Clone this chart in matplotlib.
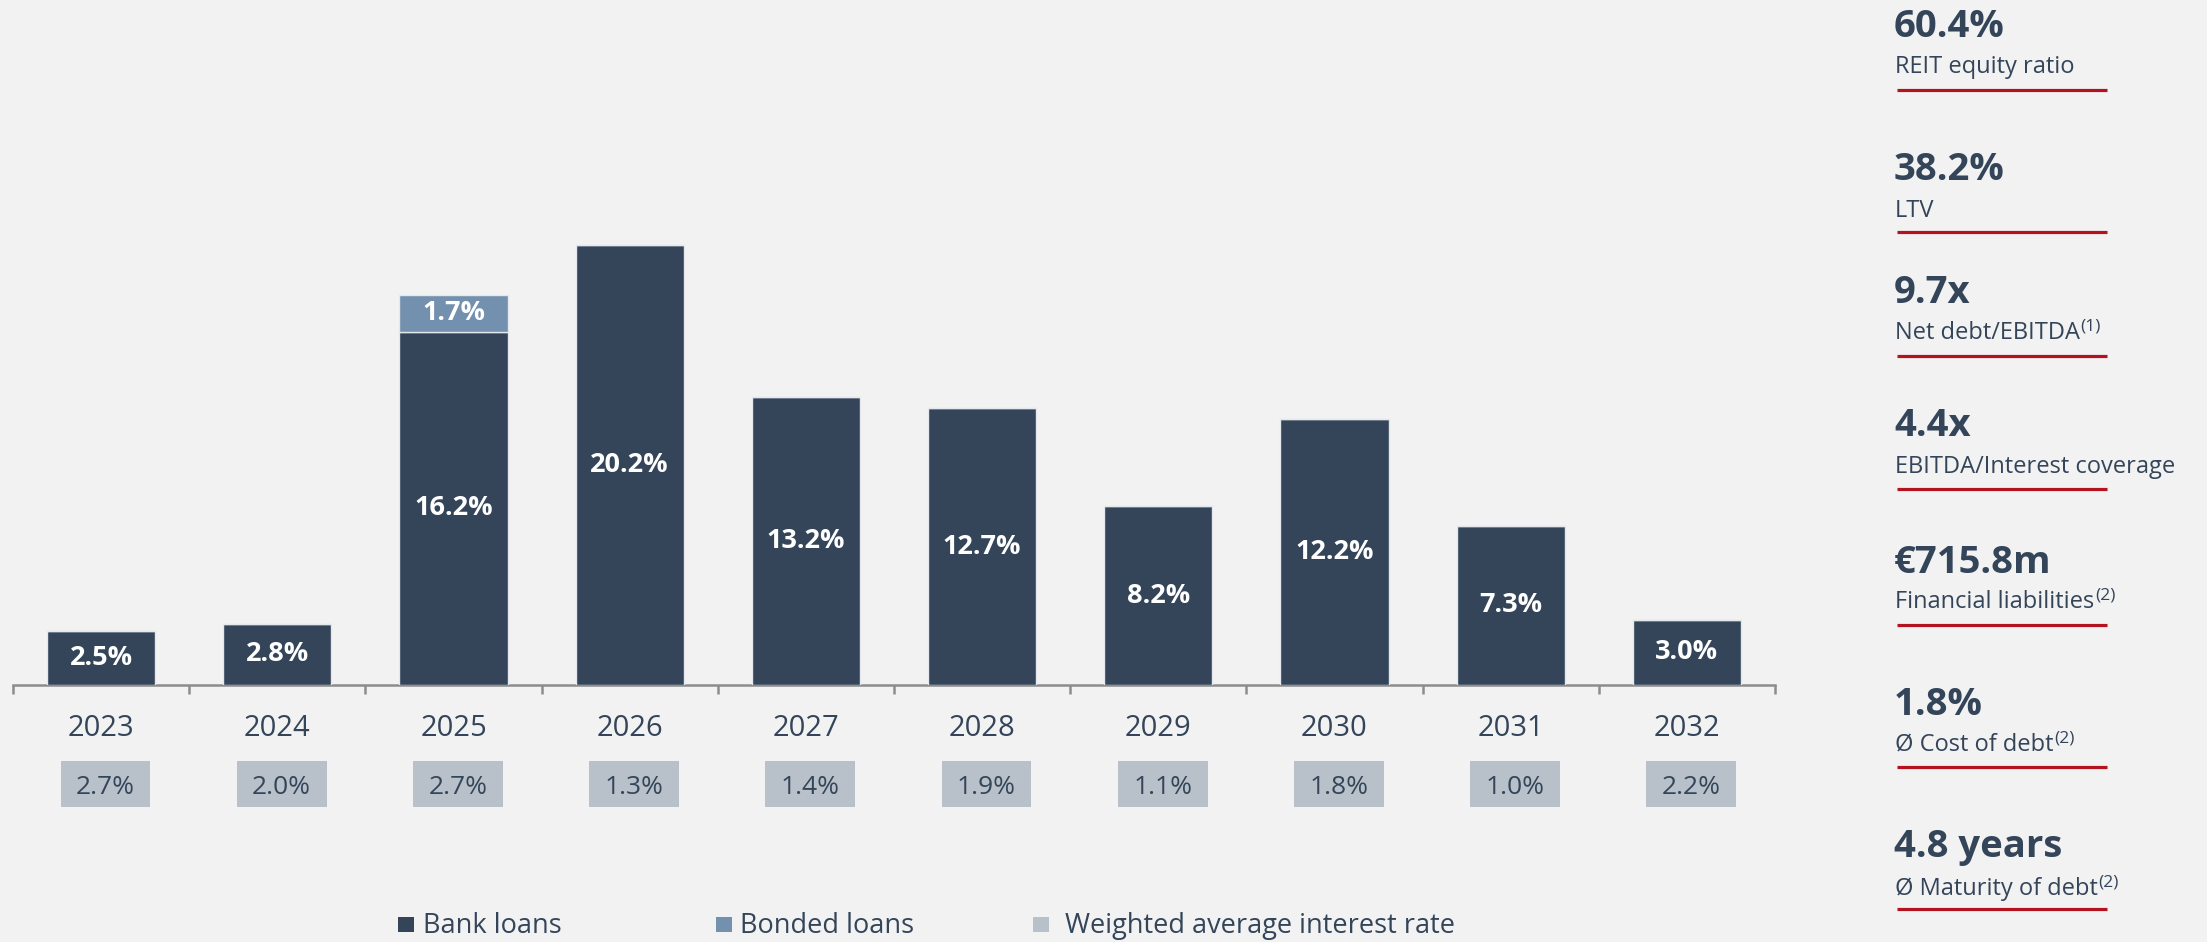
import matplotlib
matplotlib.use("Agg")
import matplotlib.pyplot as plt
from matplotlib.patches import Rectangle
from matplotlib.lines import Line2D
from matplotlib.text import Annotation
import matplotlib.transforms as mtransforms

plt.rcParams['font.family'] = ['Open Sans', 'DejaVu Sans']

# ---------------- data ----------------
years = ["2023", "2024", "2025", "2026", "2027", "2028", "2029", "2030", "2031", "2032"]
bank_loans = [2.5, 2.8, 16.2, 20.2, 13.2, 12.7, 8.2, 12.2, 7.3, 3.0]
bonded_loans = [0, 0, 1.7, 0, 0, 0, 0, 0, 0, 0]
interest_rate = [2.7, 2.0, 2.7, 1.3, 1.4, 1.9, 1.1, 1.8, 1.0, 2.2]
legend_labels = ["Bank loans", "Bonded loans", "Weighted average interest rate"]

kpi_values = ["60.4%", "38.2%", "9.7x", "4.4x", "€715.8m", "1.8%", "4.8 years"]
kpi_labels = ["REIT equity ratio", "LTV", "Net debt/EBITDA", "EBITDA/Interest coverage",
              "Financial liabilities", "Ø Cost of debt", "Ø Maturity of debt"]
kpi_notes = ["", "", "(1)", "", "(2)", "(2)", "(2)"]

# ---------------- style ----------------
W, H = 2207, 942
BG = "#F2F2F2"
C_BANK = "#344559"
C_BOND = "#7390AE"
C_RATE = "#B8C1C9"
C_TEXT = "#34455A"
C_AXIS = "#8C8C8C"
C_RED = "#B2131F"

def fx(x):
    return x / W

def fy(y):
    return 1 - y / H

fig = plt.figure(figsize=(W / 100, H / 100), dpi=100, facecolor=BG)

# chart axes geometry in pixels
left_px, cat_px = 13, 176.2
base_px, pct_px = 685, 21.8
ymax = 25
ax = fig.add_axes([fx(left_px), fy(base_px), fx(cat_px * 10), ymax * pct_px / H])
ax.set_facecolor(BG)
ax.set_xlim(-0.5, 9.5)
ax.set_ylim(0, ymax)

xs = list(range(len(years)))
ax.bar(xs, bank_loans, width=0.615, color=C_BANK, edgecolor="#E4E8EC", linewidth=1, zorder=3)
ax.bar(xs, bonded_loans, width=0.615, bottom=bank_loans, color=C_BOND,
       edgecolor="#E4E8EC", linewidth=1, zorder=3)

for x, b, bo in zip(xs, bank_loans, bonded_loans):
    ax.text(x, b / 2, f"{b:.1f}%", ha="center", va="center", color="white",
            fontsize=19.5, fontweight="bold", zorder=4)
    if bo > 0:
        ax.text(x, b + bo / 2, f"{bo:.1f}%", ha="center", va="center", color="white",
                fontsize=19.5, fontweight="bold", zorder=4)

for s in ["top", "left", "right"]:
    ax.spines[s].set_visible(False)
ax.spines["bottom"].set_color(C_AXIS)
ax.spines["bottom"].set_linewidth(1.8)
ax.set_xticks([i - 0.5 for i in range(len(years) + 1)])
ax.set_xticklabels([])
ax.tick_params(axis="x", direction="out", length=6.5, width=1.8, color=C_AXIS)
ax.set_yticks([])

blend = mtransforms.blended_transform_factory(ax.transData, fig.transFigure)
box_w = 0.51
box_dx = 0.025
for x, yr, r in zip(xs, years, interest_rate):
    ax.text(x, fy(736), yr, transform=blend, ha="center", va="baseline",
            fontsize=21, color=C_TEXT, clip_on=False)
    rect = Rectangle((x - box_w / 2 + box_dx, fy(807)), box_w, (807 - 761) / H,
                     transform=blend, facecolor=C_RATE, edgecolor="none", clip_on=False)
    ax.add_patch(rect)
    ax.text(x + box_dx, fy(794), f"{r:.1f}%", transform=blend, ha="center", va="baseline",
            fontsize=19, color=C_TEXT, clip_on=False)

# legend
leg_sq_x = [398, 716, 1033]
leg_txt_x = [423, 740, 1065]
leg_colors = [C_BANK, C_BOND, C_RATE]
for sx, tx, col, lab in zip(leg_sq_x, leg_txt_x, leg_colors, legend_labels):
    fig.patches.append(Rectangle((fx(sx), fy(932)), 16 / W, 15 / H, transform=fig.transFigure,
                                 facecolor=col, edgecolor="none"))
    fig.text(fx(tx), fy(933), lab, ha="left", va="baseline", fontsize=19.5, color=C_TEXT)

# KPI panel
val_base = [37, 180, 303, 436, 573, 715, 857]
lab_base = [73, 217, 339, 473, 608, 751, 895]
line_y = [90, 232, 356, 489, 625, 767, 909]
kx = 1894
for v, l, n, vb, lb, ly in zip(kpi_values, kpi_labels, kpi_notes, val_base, lab_base, line_y):
    fig.text(fx(kx), fy(vb), v, ha="left", va="baseline", fontsize=27.5, fontweight="bold",
             color=C_TEXT)
    t = fig.text(fx(kx + 1), fy(lb), l, ha="left", va="baseline", fontsize=17, color=C_TEXT)
    if n:
        fig.add_artist(Annotation(n, xy=(1, 1), xycoords=t,
                                  xytext=(0.5, 2), textcoords="offset points",
                                  ha="left", va="top", fontsize=12.5, color=C_TEXT))
    fig.add_artist(Line2D([fx(1897), fx(2107)], [fy(ly), fy(ly)], transform=fig.transFigure,
                          color=C_RED, linewidth=2.3, solid_capstyle="butt"))

fig.savefig("out.png", dpi=100, facecolor=BG)
